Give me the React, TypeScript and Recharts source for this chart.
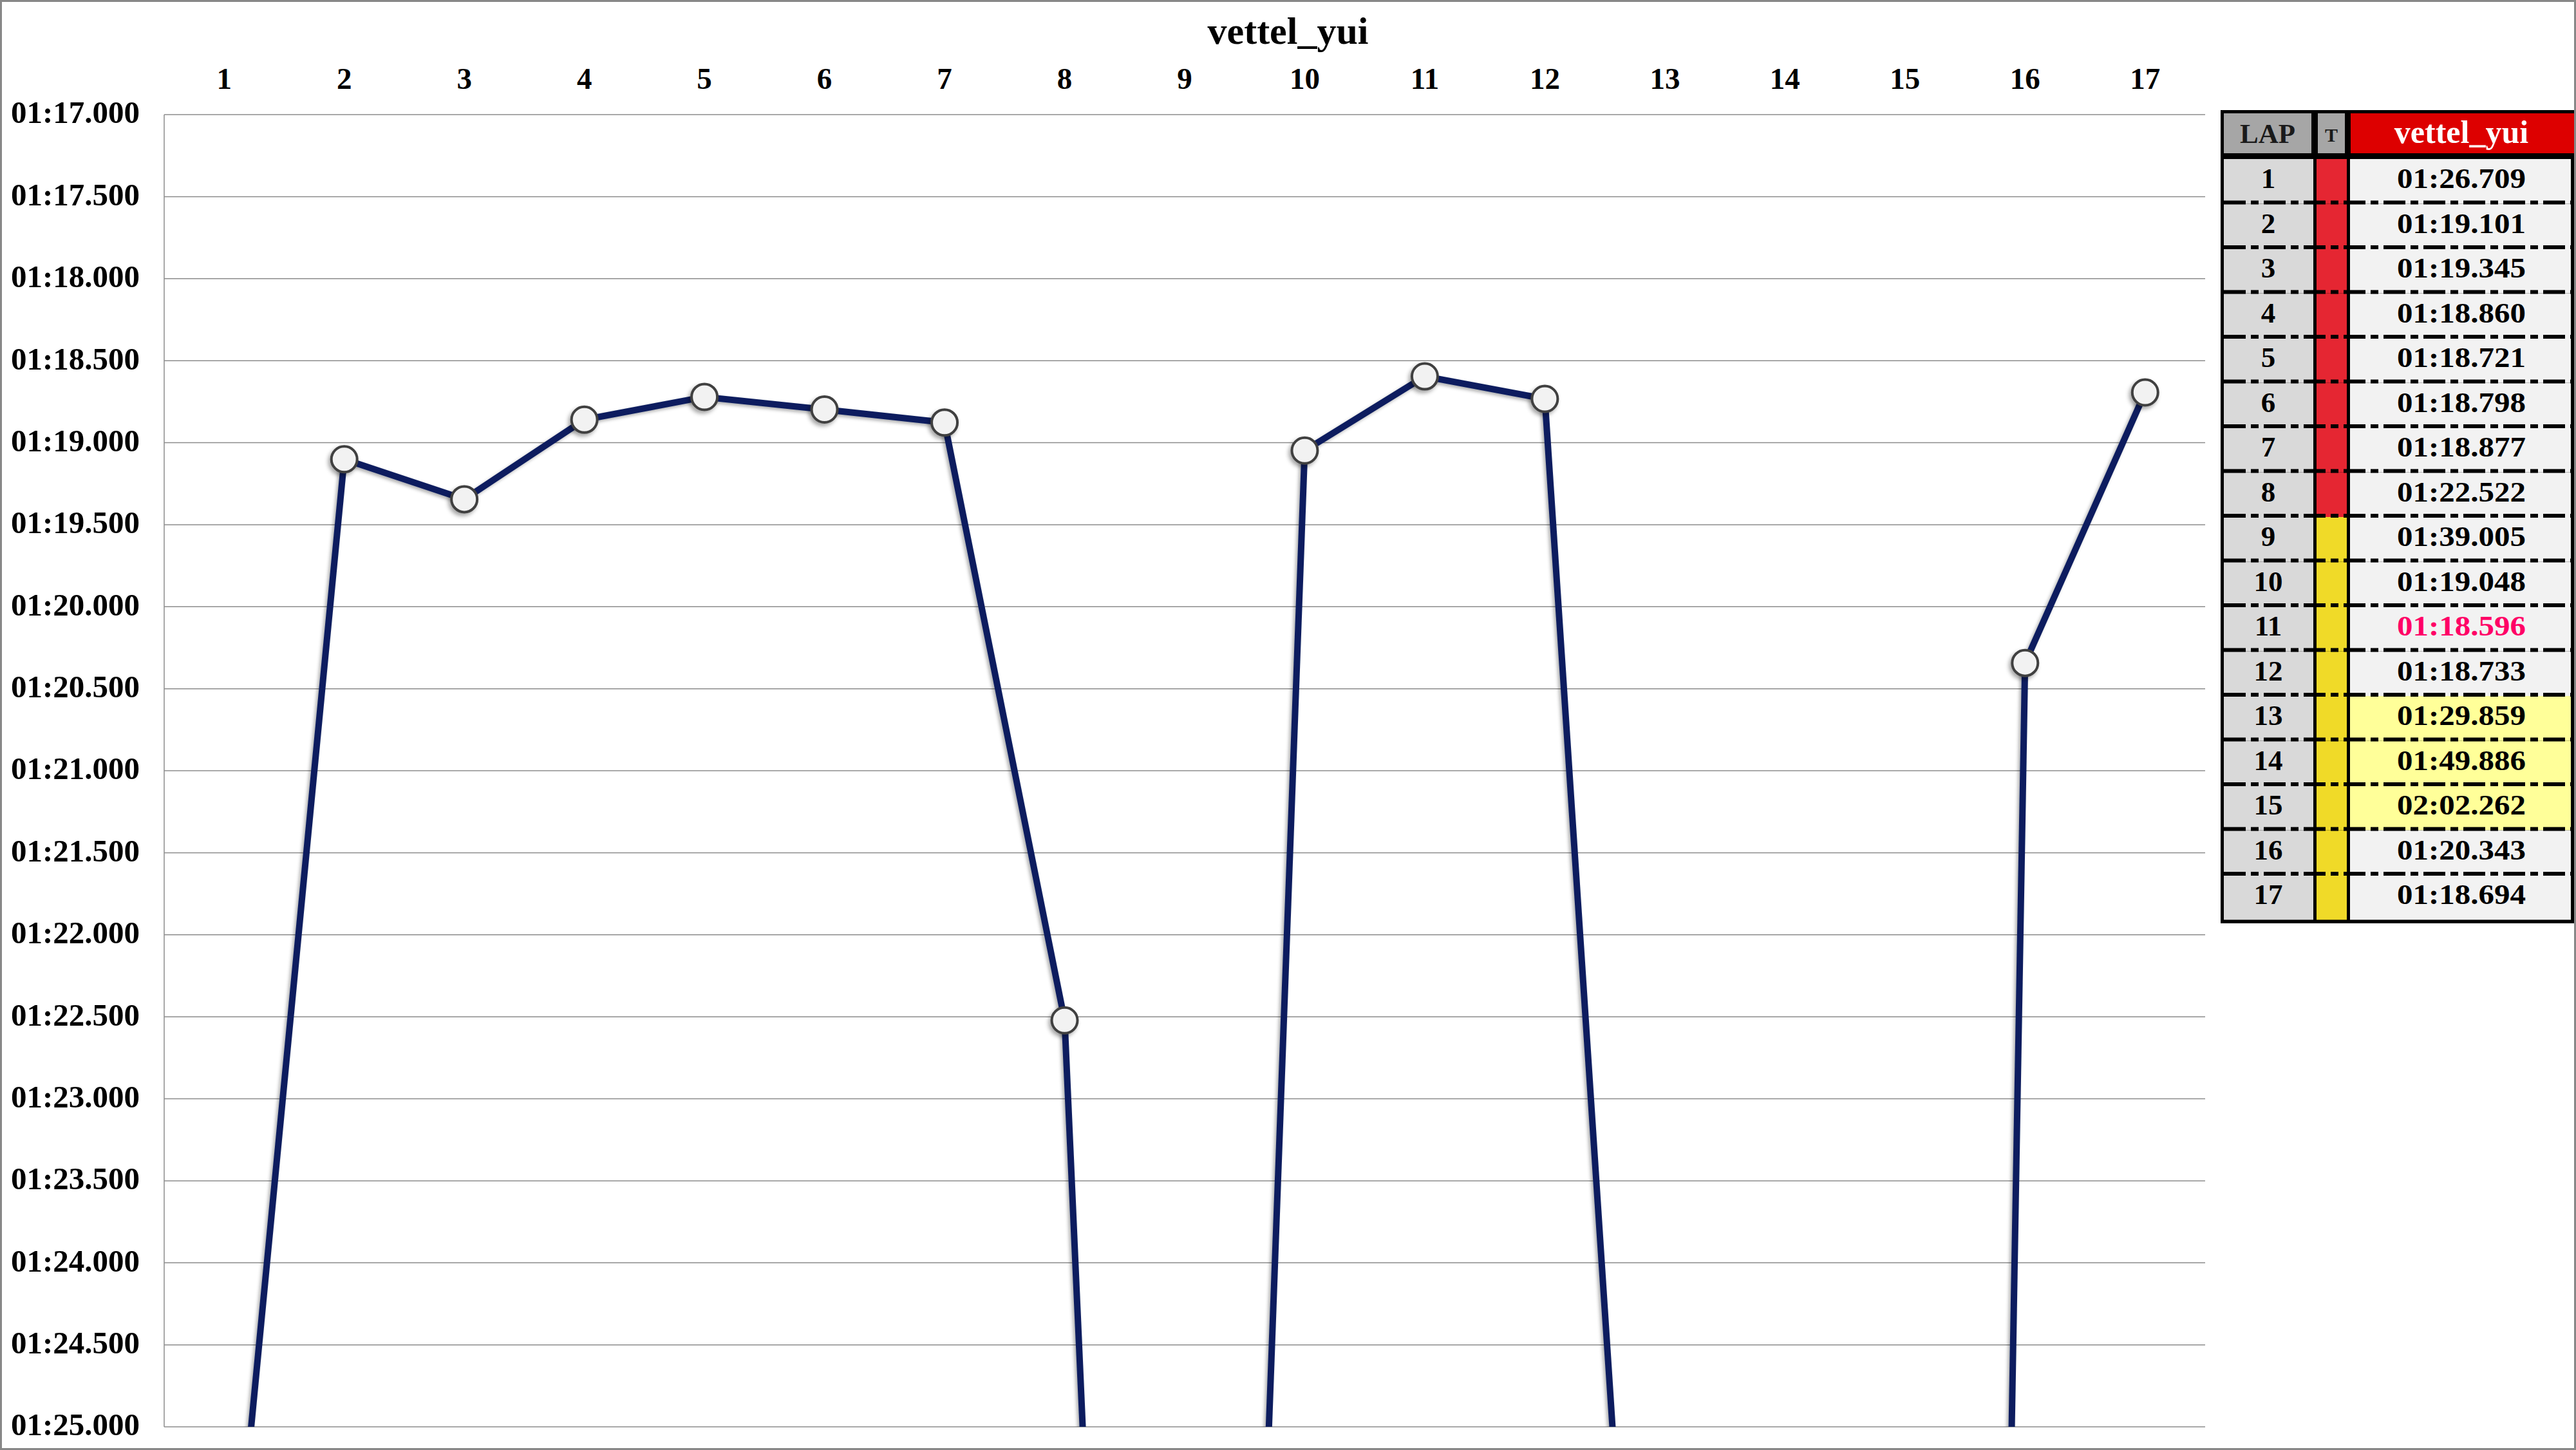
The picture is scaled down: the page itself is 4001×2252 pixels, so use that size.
import { LineChart, Line, XAxis, YAxis, CartesianGrid } from "recharts";

const driver = "vettel_yui";
const laps = [1, 2, 3, 4, 5, 6, 7, 8, 9, 10, 11, 12, 13, 14, 15, 16, 17];
// lap times in seconds
const lapTimes = [
  86.709, 79.101, 79.345, 78.86, 78.721, 78.798, 78.877, 82.522, 99.005,
  79.048, 78.596, 78.733, 89.859, 109.886, 122.262, 80.343, 78.694,
];
const tyres = ["S", "S", "S", "S", "S", "S", "S", "S", "M", "M", "M", "M", "M", "M", "M", "M", "M"];
const slowLaps = [13, 14, 15];
const yTicks = [77, 77.5, 78, 78.5, 79, 79.5, 80, 80.5, 81, 81.5, 82, 82.5, 83, 83.5, 84, 84.5, 85];

const tyreColor: Record<string, string> = { S: "#e52632", M: "#f0da28" };
const serif = "'Liberation Serif', 'Times New Roman', serif";

const data = laps.map((lap, i) => ({ lap, time: lapTimes[i] }));
const bestTime = Math.min(...lapTimes);

function fmt(v: number) {
  const m = Math.floor(v / 60);
  const s = v - m * 60;
  return `${String(m).padStart(2, "0")}:${s.toFixed(3).padStart(6, "0")}`;
}

function LapTable() {
  const W = 549;
  const H = 1263;
  const rowH = 69.5;
  const bodyTop = 76;
  return (
    <svg width={W} height={H} style={{ position: "absolute", left: 3449, top: 171 }}>
      <rect width={W} height={H} fill="#000" />
      <rect x={5} y={5} width={136} height={62} fill="#a6a6a6" />
      <rect x={151} y={5} width={42} height={62} fill="#a6a6a6" />
      <rect x={202} y={5} width={347} height={62} fill="#dd0000" />
      <text x={73} y={36} textAnchor="middle" dominantBaseline="central" fontFamily={serif} fontWeight="bold" fontSize={43} fill="#1a1a1a">
        LAP
      </text>
      <text x={172} y={38} textAnchor="middle" dominantBaseline="central" fontFamily={serif} fontWeight="bold" fontSize={30} fill="#1a1a1a">
        T
      </text>
      <text x={374} y={34} textAnchor="middle" dominantBaseline="central" fontFamily={serif} fontWeight="bold" fontSize={50} fill="#fff">
        {driver}
      </text>
      {laps.map((lap, i) => {
        const y = bodyTop + i * rowH;
        const t = lapTimes[i];
        const slow = slowLaps.includes(lap);
        return (
          <g key={lap}>
            <rect x={5} y={y} width={139} height={rowH} fill="#d9d9d9" />
            <rect x={149} y={y} width={47} height={rowH} fill={tyreColor[tyres[i]]} />
            <rect x={201} y={y} width={343} height={rowH} fill={slow ? "#ffff99" : "#f2f2f2"} />
            <text x={74} y={y + 30} textAnchor="middle" dominantBaseline="central" fontFamily={serif} fontWeight="bold" fontSize={45} fill="#000">
              {lap}
            </text>
            <text
              x={374}
              y={y + 30}
              textAnchor="middle"
              dominantBaseline="central"
              fontFamily={serif}
              fontWeight="bold"
              fontSize={45}
              textLength={200}
              lengthAdjust="spacingAndGlyphs"
              fill={t === bestTime ? "#ff0066" : "#000"}
            >
              {fmt(t)}
            </text>
          </g>
        );
      })}
      {laps.slice(1).map((lap, i) => (
        <line
          key={lap}
          x1={5}
          x2={544}
          y1={bodyTop + (i + 1) * rowH - 2}
          y2={bodyTop + (i + 1) * rowH - 2}
          stroke="#000"
          strokeWidth={6}
          strokeDasharray="34 8 12 8"
        />
      ))}
      <rect x={144} y={bodyTop} width={5} height={H - bodyTop} fill="#000" />
      <rect x={196} y={bodyTop} width={5} height={H - bodyTop} fill="#000" />
    </svg>
  );
}

export default function App() {
  return (
    <div style={{ position: "relative", width: 4001, height: 2252, background: "#fff", overflow: "hidden" }}>
      <style>{`body{margin:0}`}</style>
      <svg width={0} height={0} style={{ position: "absolute" }}>
        <defs>
          <filter id="lineShadow" x="-20%" y="-20%" width="140%" height="140%">
            <feDropShadow dx={-3} dy={3} stdDeviation={2.5} floodColor="#000" floodOpacity={0.3} />
          </filter>
          <filter id="dotShadow" x="-50%" y="-50%" width="200%" height="200%">
            <feDropShadow dx={-3} dy={4} stdDeviation={3} floodColor="#000" floodOpacity={0.35} />
          </filter>
        </defs>
      </svg>
      <div
        style={{
          position: "absolute",
          left: 0,
          top: 18,
          width: 4001,
          textAlign: "center",
          fontFamily: serif,
          fontWeight: "bold",
          fontSize: 60,
          lineHeight: "60px",
        }}
      >
        {driver}
      </div>
      <div style={{ position: "absolute", left: 0, top: 0 }}>
        <LineChart width={3440} height={2252} data={data} margin={{ top: 90, right: 15, bottom: 36, left: 15 }}>
          <CartesianGrid vertical={false} stroke="#8c8c8c" strokeWidth={1.5} />
          <XAxis
            dataKey="lap"
            type="number"
            orientation="top"
            domain={[0.5, 17.5]}
            ticks={laps}
            height={88}
            axisLine={false}
            tickLine={false}
            tickSize={0}
            tickMargin={40}
            tick={{ fontSize: 47, fontFamily: serif, fontWeight: "bold", fill: "#000" }}
          />
          <YAxis
            type="number"
            domain={[77, 85]}
            ticks={yTicks}
            reversed
            allowDataOverflow
            width={240}
            axisLine={{ stroke: "#8c8c8c", strokeWidth: 1.5 }}
            tickLine={false}
            tickSize={0}
            tickMargin={38}
            tickFormatter={fmt}
            tick={{ fontSize: 49, fontFamily: serif, fontWeight: "bold", fill: "#000", dy: -4 }}
          />
          <Line
            dataKey="time"
            stroke="#0b1f5e"
            strokeWidth={10}
            filter="url(#lineShadow)"
            dot={{ r: 20, fill: "#f2f2f2", stroke: "#404040", strokeWidth: 4, filter: "url(#dotShadow)" }}
            activeDot={false}
            isAnimationActive={false}
          />
        </LineChart>
      </div>
      <LapTable />
      <div
        style={{
          position: "absolute",
          left: 0,
          top: 0,
          width: 4001,
          height: 2252,
          boxSizing: "border-box",
          border: "3px solid #888",
          pointerEvents: "none",
        }}
      />
    </div>
  );
}
